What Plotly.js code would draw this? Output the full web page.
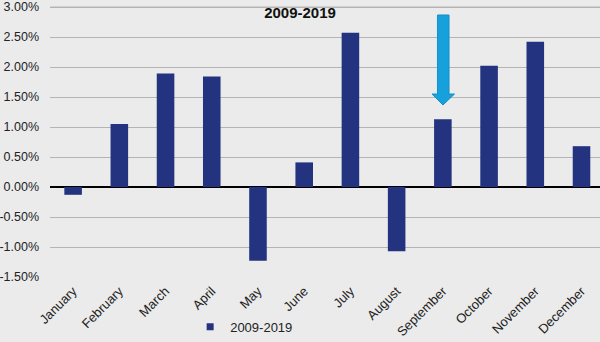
<!DOCTYPE html>
<html>
<head>
<meta charset="utf-8">
<script src="https://cdn.plot.ly/plotly-3.0.1.min.js"></script>
<style>html,body{margin:0;padding:0;background:#ebebeb;}#chart{width:600px;height:342px;}</style>
</head>
<body>
<div id="chart"></div>
<script>
const months = ["January","February","March","April","May","June","July","August","September","October","November","December"];
const seriesName = "2009-2019";
const returnsPct = [-0.13, 1.05, 1.89, 1.84, -1.23, 0.41, 2.57, -1.07, 1.13, 2.02, 2.42, 0.68];
const yTickVals = [-1.5, -1.0, -0.5, 0, 0.5, 1.0, 1.5, 2.0, 2.5, 3.0];
const yTickText = yTickVals.map(v => v.toFixed(2) + "%");
const yMax = 3.0;

const navy = "#24337f";
const gridColor = "#b4b4b4";
const font = "Liberation Sans, Arial, sans-serif";

const traces = [
  {
    type: "bar",
    x: months,
    y: returnsPct,
    width: 0.38,
    marker: {color: navy},
    showlegend: false,
    hoverinfo: "x+y"
  },
  {
    type: "scatter",
    mode: "markers",
    x: [null],
    y: [null],
    name: seriesName,
    marker: {symbol: "square", size: 7, color: navy},
    showlegend: true
  }
];

// plot area: 50..600 px horizontally, 1..277 px vertically (60 px per 1%)
const layout = {
  width: 600,
  height: 342,
  margin: {l: 50, r: 0, t: 1, b: 65},
  paper_bgcolor: "#ebebeb",
  plot_bgcolor: "#ebebeb",
  font: {family: font, size: 13, color: "#222"},
  title: {
    text: "<b>2009-2019</b>",
    font: {family: font, size: 15, color: "#111"},
    x: 0.5, xanchor: "center",
    y: 1 - 13 / 342, yanchor: "middle", yref: "container"
  },
  xaxis: {
    type: "category",
    range: [-0.5, 11.4],
    tickangle: -45,
    tickfont: {family: font, size: 13, color: "#222"},
    showgrid: false,
    zeroline: false,
    showline: false,
    ticks: "",
    ticklabelstandoff: 3,
    fixedrange: true
  },
  yaxis: {
    range: [-1.5, 3.1],
    tickvals: yTickVals,
    ticktext: yTickText,
    tickfont: {family: font, size: 12.5, color: "#222"},
    ticklabeloverflow: "allow",
    showgrid: true,
    gridcolor: gridColor,
    gridwidth: 1,
    zeroline: true,
    zerolinecolor: "#000",
    zerolinewidth: 1.5,
    showline: false,
    ticks: "",
    ticklabelstandoff: 10,
    fixedrange: true
  },
  legend: {
    orientation: "h",
    x: 0.353, xanchor: "center",
    y: -0.18, yanchor: "middle",
    bgcolor: "rgba(0,0,0,0)",
    font: {family: font, size: 13, color: "#222"},
    itemwidth: 30
  },
  shapes: [
    {
      type: "line", layer: "below",
      xref: "paper", x0: 0, x1: 1,
      yref: "y", y0: yMax, y1: yMax,
      line: {color: gridColor, width: 1}
    },
    {
      type: "path",
      xref: "paper", yref: "paper",
      path: "M 0.7045,0.9493 L 0.7255,0.9493 L 0.7255,0.6630 L 0.7355,0.6630 L 0.7145,0.6232 L 0.6945,0.6630 L 0.7045,0.6630 Z",
      fillcolor: "#16a0dc",
      line: {color: "#1690c8", width: 1}
    }
  ],
  bargap: 0.62,
  showlegend: true
};

Plotly.newPlot("chart", traces, layout, {displayModeBar: false, staticPlot: true});
</script>
</body>
</html>
